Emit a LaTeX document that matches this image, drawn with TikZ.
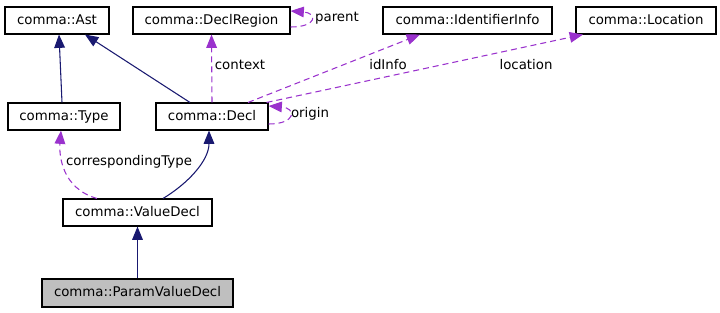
\documentclass[tikz,border=0pt]{standalone}
\usepackage{fontspec}
\setmainfont{DejaVu Sans}
\usetikzlibrary{arrows.meta, calc}
\definecolor{edgeblue}{RGB}{25,25,112}
\definecolor{edgepurple}{RGB}{154,50,205}
\definecolor{boxgray}{RGB}{191,191,191}

\begin{document}
\begin{tikzpicture}[x=0.75pt,y=-0.75pt,
  classbox/.style={draw=black, line width=0.8pt, inner sep=0pt, minimum height=20.25pt,
    text height=7.5pt, text depth=2pt, font=\fontsize{10}{12}\selectfont},
  inherit/.style={draw=edgeblue, line width=0.8pt, -{Triangle[length=10pt,width=8pt]}},
  usage/.style={draw=edgepurple, line width=0.8pt, dash pattern=on 4.5pt off 3pt,
    -{Triangle[length=10pt,width=8pt]}},
  lbl/.style={inner sep=0pt, text height=7.5pt, text depth=2pt, font=\fontsize{10}{12}\selectfont}]
\useasboundingbox (0,0) rectangle (720,312);

%The classes:
\node[classbox, minimum width=78pt] (ast) at (57,20.5) {comma::Ast};
\node[classbox, minimum width=117.75pt] (region) at (211.5,20.5) {comma::DeclRegion};
\node[classbox, minimum width=126.75pt] (idinfo) at (467.5,20.5) {comma::IdentifierInfo};
\node[classbox, minimum width=105pt] (location) at (646,20.5) {comma::Location};
\node[classbox, minimum width=84pt] (type) at (64,116.5) {comma::Type};
\node[classbox, minimum width=84pt] (decl) at (212,116.5) {comma::Decl};
\node[classbox, minimum width=111.75pt] (valuedecl) at (137.5,212.5) {comma::ValueDecl};
\node[classbox, minimum width=143.25pt, minimum height=21pt, fill=boxgray] (param) at (137.5,293) {comma::ParamValueDecl};

%Inheritance:
\draw[inherit] ($(type.north)+(-2,0)$) -- ($(ast.south)+(2,0)$);
\draw[inherit] ($(decl.north)+(-22,0)$) -- ($(ast.south)+(28,0)$);
\draw[inherit] ($(valuedecl.north)+(25.5,0)$) .. controls +(25,-15) and +(0,30) .. ($(decl.south)+(-3,0)$);
\draw[inherit] (param.north) -- (valuedecl.south);

%Usage:
\draw[usage] (decl.north) -- (region.south);
\draw[usage] ($(region.east)+(0,6.5)$) .. controls +(27,0) and +(27,2) .. ($(region.east)+(0,-9.5)$);
\draw[usage] ($(decl.north)+(36,0)$) -- ($(idinfo.south)+(-47.5,0)$);
\draw[usage] ($(decl.north east)+(-2,0)$) -- ($(location.south)+(-63,0)$);
\draw[usage] ($(decl.east)+(0,7.5)$) .. controls +(28,0) and +(28,2) .. ($(decl.east)+(0,-10.5)$);
\draw[usage] ($(valuedecl.north)+(-40.5,0)$) .. controls +(-35,-10) and +(-2,25) .. ($(type.south)+(-3,0)$);

\node[lbl] at (240,66) {context};
\node[lbl] at (337,18) {parent};
\node[lbl] at (388,66) {idInfo};
\node[lbl] at (526,66) {location};
\node[lbl] at (310,114) {origin};
\node[lbl] at (129,162) {correspondingType};

\end{tikzpicture}
\end{document}
